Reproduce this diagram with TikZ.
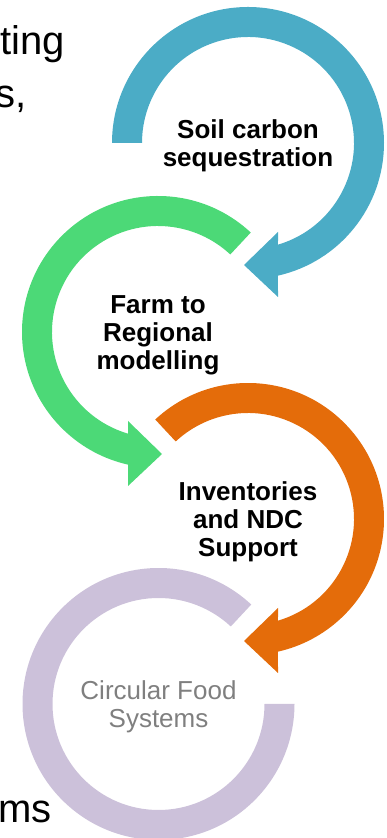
\documentclass[tikz,border=0pt]{standalone}
\usepackage{fontspec}
\setmainfont{Liberation Sans}
\definecolor{ringblue}{HTML}{4BACC6}
\definecolor{ringgreen}{HTML}{4CD977}
\definecolor{ringorange}{HTML}{E46C0A}
\definecolor{ringlilac}{HTML}{CCC1DA}
\definecolor{softgray}{HTML}{7F7F7F}
\begin{document}
\begin{tikzpicture}[x=1pt,y=1pt,
  lbl/.style={font=\fontsize{26}{28}\selectfont\bfseries,align=center,inner sep=0pt},
  faint/.style={font=\fontsize{26}{28}\selectfont,align=center,inner sep=0pt,text=softgray},
  back/.style={font=\fontsize{40}{44}\selectfont,anchor=base west,inner sep=0pt}]
\useasboundingbox (0,0) rectangle (387,838);
\clip (0,0) rectangle (387,838);
% text behind the rings
\node[back] (t1) at (0,783) {ting};
\node[back] (t2) at (-4.6,730) {s,};
\node[back] (t3) at (-2,15) {ms};
% ring centres
\coordinate (c1) at (248,695);
\coordinate (c2) at (158,506);
\coordinate (c3) at (248,319);
\coordinate (c4) at (158.5,134);
% rings
\fill[ringlilac,shift={(c4)}] (47:136) arc[start angle=47,end angle=360,radius=136] -- (0:106) arc[start angle=360,end angle=47,radius=106] -- cycle;
\fill[ringorange,shift={(c3)}] (133:136) arc[start angle=133,end angle=-77.26,radius=136] -- (30,-154) -- (-4,-122) -- (30,-89) -- (-73.56:106) arc[start angle=-73.56,end angle=133,radius=106] -- cycle;
\fill[ringgreen,shift={(c2)},xscale=-1] (133:136) arc[start angle=133,end angle=-77.26,radius=136] -- (30,-154) -- (-4,-122) -- (30,-89) -- (-73.56:106) arc[start angle=-73.56,end angle=133,radius=106] -- cycle;
\fill[ringblue,shift={(c1)}] (180:136) arc[start angle=180,end angle=-77.26,radius=136] -- (30,-154) -- (-4,-122) -- (30,-89) -- (-73.56:106) arc[start angle=-73.56,end angle=180,radius=106] -- cycle;
% labels
\node[lbl] (soil) at (248,692) {Soil carbon\\sequestration};
\node[lbl] (farm) at (158,503) {Farm to\\Regional\\modelling};
\node[lbl] (ndc) at (248,316) {Inventories\\and NDC\\Support};
\node[faint] (food) at (158.5,131) {Circular Food\\Systems};
\end{tikzpicture}
\end{document}
